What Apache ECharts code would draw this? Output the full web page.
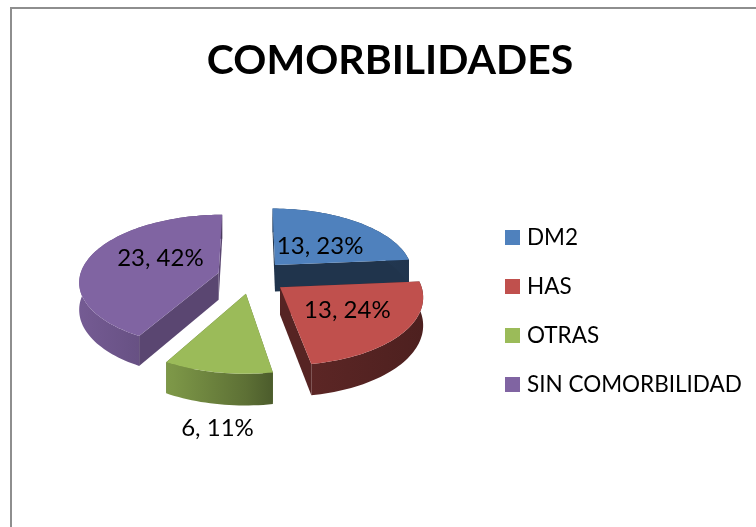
<!DOCTYPE html>
<html>
<head>
<meta charset="utf-8">
<style>
html, body { margin: 0; padding: 0; background: #fff; }
#chart { width: 756px; height: 527px; }
</style>
<script src="https://cdn.jsdelivr.net/npm/echarts@6/dist/echarts.min.js"></script>
</head>
<body>
<div id="chart"></div>
<script>
var categorias = ['DM2', 'HAS', 'OTRAS', 'SIN COMORBILIDAD'];
var valores = [13, 13, 6, 23];
var porcentajes = [23, 24, 11, 42];

var colores = ['#4F81BD', '#C0504D', '#9BBB59', '#8064A2'];
// sombra de la cara del corte, por rebanada
var sombraCara = [0.4, 0.45, 0.6, 0.7];
// desplazamiento de cada etiqueta desde su punto de anclaje
var ajusteEtiqueta = [[2, 3], [8, 1], [-15, 98], [7, -6]];

// parametros de la vista 3D
var cx = 252, cy = 277;
var rx = 139, ry = 66;
var persp = 0.12;
var explosion = 0.25;
var alto = 27;

var total = valores.reduce(function (a, b) { return a + b; }, 0);

function proyectar(a, b, bajar) {
	var w = 1 / (1 - persp * b);
	return [cx + rx * a * w, cy + ry * b * w + (bajar ? alto * w : 0)];
}

// mas claro a la izquierda, mas oscuro a la derecha
var sombraX = [-1, -0.5, 0, 0.2, 1];
var sombraY = [0.92, 0.8, 0.6, 0.48, 0.4];

function oscurecer(hex, f) {
	var n = parseInt(hex.slice(1), 16);
	return 'rgb(' + Math.round((n >> 16) * f) + ',' + Math.round(((n >> 8) & 255) * f) + ',' + Math.round((n & 255) * f) + ')';
}

function poligono(puntos, fill, z2) {
	return {
		type: 'polygon',
		z2: z2,
		shape: { points: puntos },
		style: { fill: fill }
	};
}

function dibujarRebanada(i) {
	return function (params, api) {
		var previo = 0;
		for (var k = 0; k < i; k++) previo += valores[k];
		var ini = previo / total * Math.PI * 2;
		var fin = (previo + api.value(0)) / total * Math.PI * 2;
		var medio = (ini + fin) / 2;
		var ea = Math.sin(medio) * explosion, eb = -Math.cos(medio) * explosion;

		function punto(t, r, bajar) {
			return proyectar(ea + Math.sin(t) * r, eb - Math.cos(t) * r, bajar);
		}

		var hijos = [];
		var base = colores[i];
		var centro = punto(0, 0, false), centroB = punto(0, 0, true);
		var paso = (fin - ini) / Math.ceil((fin - ini) / 0.03);

		// caras de corte: primero la de atras
		var cortes = Math.cos(ini) > Math.cos(fin) ? [ini, fin] : [fin, ini];
		cortes.forEach(function (t) {
			hijos.push(poligono([centro, punto(t, 1, false), punto(t, 1, true), centroB], oscurecer(base, sombraCara[i]), 1));
		});

		// borde exterior, un solo poligono con degradado horizontal
		var arriba = [], abajo = [];
		for (var t = ini; t < fin + 1e-6; t += paso) {
			arriba.push(punto(t, 1, false));
			abajo.unshift(punto(t, 1, true));
		}
		hijos.push(poligono(arriba.concat(abajo), {
			type: 'linear',
			global: true,
			x: cx + rx * (ea - 1.05),
			y: 0,
			x2: cx + rx * (ea + 1.05),
			y2: 0,
			colorStops: sombraX.map(function (a, j) {
				return { offset: (a + 1) / 2, color: oscurecer(base, sombraY[j]) };
			})
		}, 2));

		// tapa superior
		hijos.push(poligono([centro].concat(arriba), base, 3));

		// etiqueta
		var ancla = punto(medio, 0.5, false);
		hijos.push({
			type: 'text',
			z2: 10,
			style: {
				text: api.value(0) + ', ' + porcentajes[i] + '%',
				x: ancla[0] + ajusteEtiqueta[i][0],
				y: ancla[1] + ajusteEtiqueta[i][1],
				align: 'center',
				verticalAlign: 'middle',
				fontFamily: 'Lato',
				fontSize: 24,
				fill: '#000'
			}
		});
		return { type: 'group', children: hijos };
	};
}

var chart = echarts.init(document.getElementById('chart'));
chart.setOption({
	animation: false,
	backgroundColor: '#fff',
	color: colores,
	title: {
		text: 'COMORBILIDADES',
		left: 385,
		top: 35,
		textAlign: 'center',
		textStyle: { fontFamily: 'Lato', fontWeight: 'bold', fontSize: 41, color: '#000' }
	},
	legend: {
		orient: 'vertical',
		left: 500,
		top: 221,
		icon: 'rect',
		itemWidth: 15,
		itemHeight: 15,
		itemGap: 26,
		textStyle: { fontFamily: 'Lato', fontSize: 22.5, color: '#000', padding: [0, 0, 0, 2] },
		data: categorias
	},
	graphic: [{
		type: 'rect',
		silent: true,
		z: -1,
		shape: { x: 11, y: 8, width: 750, height: 530 },
		style: { fill: 'none', stroke: '#8E8E8E', lineWidth: 2 }
	}],
	series: categorias.map(function (nombre, i) {
		return {
			name: nombre,
			type: 'custom',
			coordinateSystem: 'none',
			z: 2 + i,
			renderItem: dibujarRebanada(i),
			data: [[valores[i]]]
		};
	})
});
</script>
</body>
</html>
